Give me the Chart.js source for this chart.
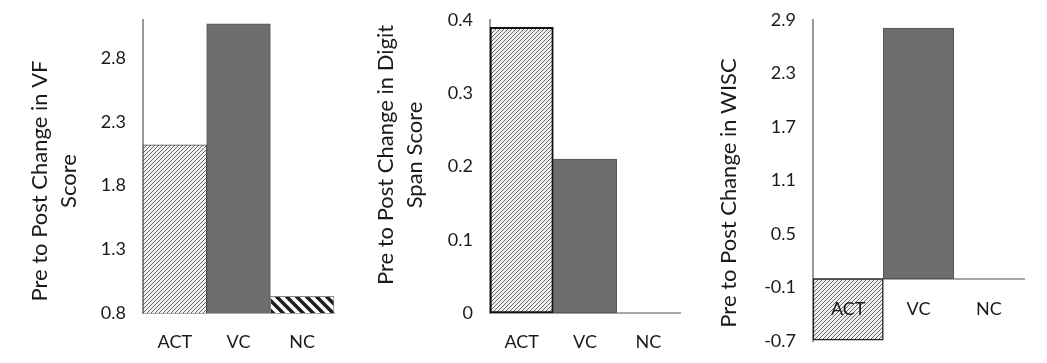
<!DOCTYPE html>
<html>
<head>
<meta charset="utf-8">
<script src="https://cdn.jsdelivr.net/npm/chart.js"></script>
<style>
  body { margin: 0; background: #fff; }
  #wrap { position: relative; width: 1047px; height: 363px; }
  canvas { position: absolute; top: 0; }
</style>
</head>
<body>
<div id="wrap">
  <canvas id="vf" width="345" height="363" style="left:0"></canvas>
  <canvas id="digit" width="345" height="363" style="left:345px"></canvas>
  <canvas id="wisc" width="357" height="363" style="left:690px"></canvas>
</div>
<script>
// data
const groups = ['ACT', 'VC', 'NC'];
const vfChange = [2.12, 3.07, 0.93];
const digitChange = [0.39, 0.21, 0];
const wiscChange = [-0.69, 2.81, 0];

const vfTicks = [0.8, 1.3, 1.8, 2.3, 2.8];
const digitTicks = [0, 0.1, 0.2, 0.3, 0.4];
const wiscTicks = [-0.7, -0.1, 0.5, 1.1, 1.7, 2.3, 2.9];

const vfTitle = ['Pre to Post Change in VF', 'Score'];
const digitTitle = ['Pre to Post Change in Digit', 'Span Score'];
const wiscTitle = ['Pre to Post Change in WISC'];

const textColor = '#1a1a1a';
Chart.defaults.font.family = 'Lato';

function hatch(size, width, color, back, bg) {
  const c = document.createElement('canvas');
  c.width = size; c.height = size;
  const g = c.getContext('2d');
  g.fillStyle = bg;
  g.fillRect(0, 0, size, size);
  g.strokeStyle = color;
  g.lineWidth = width;
  g.beginPath();
  if (back) {
    g.moveTo(-size, 0); g.lineTo(size, 2 * size);
    g.moveTo(0, 0); g.lineTo(size, size);
    g.moveTo(0, -size); g.lineTo(2 * size, size);
  } else {
    g.moveTo(0, size); g.lineTo(size, 0);
    g.moveTo(-size, size); g.lineTo(size, -size);
    g.moveTo(0, 2 * size); g.lineTo(2 * size, 0);
  }
  g.stroke();
  return g.createPattern(c, 'repeat');
}
const fineHatch = hatch(4, 1, '#6a6a6a', false, '#f0f0f0');
const boldHatch = hatch(10, 3.5, '#1e1e1e', true, '#ffffff');

// rotated y-axis titles
const sideTitle = {
  id: 'sideTitle',
  afterDraw(chart, args, o) {
    const ctx = chart.ctx;
    ctx.save();
    ctx.font = '22px Lato';
    ctx.fillStyle = textColor;
    ctx.textAlign = 'center';
    ctx.textBaseline = 'middle';
    ctx.translate(o.x, o.y);
    ctx.rotate(-Math.PI / 2);
    o.lines.forEach((t, i) => ctx.fillText(t, 0, i * 29));
    ctx.restore();
  }
};

function noPad(s) {
  s.paddingTop = 0; s.paddingBottom = 0; s.paddingLeft = 0; s.paddingRight = 0;
}

function makeChart(id, values, ticks, min, max, cfg) {
  new Chart(document.getElementById(id), {
    type: 'bar',
    data: {
      labels: groups,
      datasets: [{
        data: values,
        backgroundColor: cfg.fills,
        borderColor: cfg.borders,
        borderWidth: cfg.widths,
        borderSkipped: false,
        categoryPercentage: 1,
        barPercentage: 1,
        clip: cfg.clip
      }]
    },
    options: {
      responsive: false,
      animation: false,
      layout: { padding: { top: 20, left: 0, right: cfg.right, bottom: cfg.bottom } },
      plugins: {
        legend: { display: false },
        tooltip: { enabled: false },
        sideTitle: cfg.title
      },
      scales: {
        x: {
          position: cfg.xPos,
          afterFit(s) { s.height = 50; noPad(s); },
          grid: { display: false, drawTicks: false },
          border: { color: '#a8a8a8', width: 2 },
          ticks: { padding: cfg.xPad, color: textColor, font: { size: 18 }, z: 1 }
        },
        y: {
          min: min,
          max: max,
          afterFit(s) { s.width = cfg.axisLeft; noPad(s); },
          afterBuildTicks(s) { s.ticks = ticks.map(v => ({ value: v })); },
          grid: { display: false, drawTicks: false },
          border: { color: '#9a9a9a', width: 2 },
          ticks: { padding: 17, color: textColor, font: { size: 18 }, callback: v => String(v) }
        }
      }
    },
    plugins: [sideTitle]
  });
}

makeChart('vf', vfChange, vfTicks, 0.8, 3.1, {
  fills: [fineHatch, '#6e6e6e', boldHatch],
  borders: ['#444', '#555', '#888'],
  widths: [1, 1, 1],
  clip: { left: false, right: false, top: false, bottom: 0 },
  right: 11, bottom: 0, axisLeft: 143, xPos: 'bottom', xPad: 18,
  title: { lines: vfTitle, x: 40, y: 181 }
});

makeChart('digit', digitChange, digitTicks, 0, 0.4, {
  fills: [fineHatch, '#6e6e6e', '#6e6e6e'],
  borders: ['#111', '#555', '#555'],
  widths: [2, 1, 1],
  clip: false,
  right: 10, bottom: 0, axisLeft: 145, xPos: 'bottom', xPad: 18,
  title: { lines: digitTitle, x: 41, y: 155 }
});

makeChart('wisc', wiscChange, wiscTicks, -0.7, 2.9, {
  fills: [fineHatch, '#6e6e6e', '#6e6e6e'],
  borders: ['#222', '#555', '#555'],
  widths: [1.5, 1, 1],
  clip: false,
  right: 23, bottom: 22, axisLeft: 123, xPos: { y: 0 }, xPad: 20,
  title: { lines: wiscTitle, x: 39, y: 193 }
});
</script>
</body>
</html>
